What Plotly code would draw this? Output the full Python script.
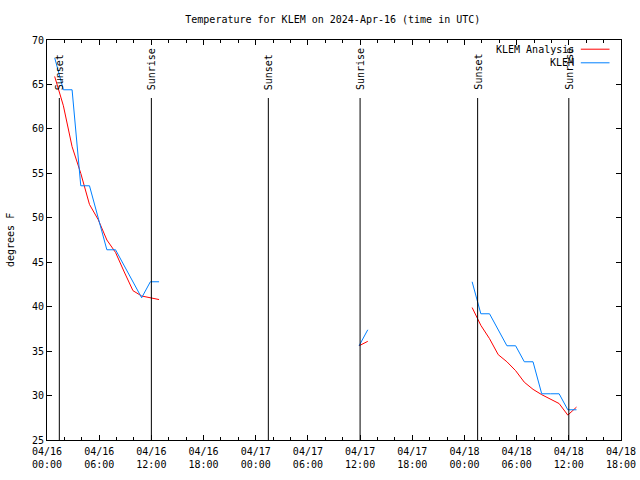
import plotly.graph_objects as go

# ---- data ----
seg1_times = ["2024-04-16 %02d:53" % h for h in range(0, 13)]
seg2_times = ["2024-04-17 11:53", "2024-04-17 12:53"]
seg3_times = ["2024-04-18 %02d:53" % h for h in range(0, 13)]

analysis_seg1 = [65.9, 62.6, 58.0, 55.0, 51.5, 49.8, 47.5, 46.1, 43.9, 41.8, 41.2, 41.0, 40.8]
analysis_seg2 = [35.6, 36.1]
analysis_seg3 = [39.9, 37.9, 36.4, 34.6, 33.8, 32.8, 31.5, 30.7, 30.1, 29.6, 29.1, 27.8, 28.7]

obs_seg1 = [68.0, 64.4, 64.4, 53.6, 53.6, 50.0, 46.4, 46.4, 44.6, 42.8, 41.0, 42.8, 42.8]
obs_seg2 = [35.6, 37.4]
obs_seg3 = [42.8, 39.2, 39.2, 37.4, 35.6, 35.6, 33.8, 33.8, 30.2, 30.2, 30.2, 28.4, 28.4]

event_times = ["2024-04-16 01:25", "2024-04-16 12:00", "2024-04-17 01:27",
               "2024-04-17 12:00", "2024-04-18 01:31", "2024-04-18 12:00"]
event_labels = ["Sunset", "Sunrise", "Sunset", "Sunrise", "Sunset", "Sunrise"]

tick_vals = ["2024-04-16 00:00", "2024-04-16 06:00", "2024-04-16 12:00", "2024-04-16 18:00",
             "2024-04-17 00:00", "2024-04-17 06:00", "2024-04-17 12:00", "2024-04-17 18:00",
             "2024-04-18 00:00", "2024-04-18 06:00", "2024-04-18 12:00", "2024-04-18 18:00"]
tick_text = [v[5:7] + "/" + v[8:10] + "<br>" + v[11:16] for v in tick_vals]

title_text = "Temperature for KLEM on 2024-Apr-16 (time in UTC)"
FONT = "DejaVu Sans Mono"
RED = "#ff0000"
BLUE = "#0080ff"

x_all = seg1_times + [None] + seg2_times + [None] + seg3_times
an_all = analysis_seg1 + [None] + analysis_seg2 + [None] + analysis_seg3
ob_all = obs_seg1 + [None] + obs_seg2 + [None] + obs_seg3

fig = go.Figure()
fig.add_trace(go.Scatter(x=x_all, y=an_all, mode="lines", name="KLEM Analysis",
                         line=dict(color=RED, width=1), connectgaps=False))
fig.add_trace(go.Scatter(x=x_all, y=ob_all, mode="lines", name="KLEM",
                         line=dict(color=BLUE, width=1), connectgaps=False))

for t, lab in zip(event_times, event_labels):
    fig.add_shape(type="line", xref="x", yref="y domain", x0=t, x1=t, y0=0, y1=0.855,
                  line=dict(color="black", width=1))
    fig.add_annotation(x=t, xref="x", y=0.87, yref="y domain", text=lab, textangle=-90,
                       showarrow=False, xanchor="center", yanchor="bottom",
                       font=dict(family=FONT, size=10, color="black"))

# legend drawn as annotations
leg = [("KLEM Analysis", RED, 0.977), ("KLEM", BLUE, 0.943)]
for name, col, yy in leg:
    fig.add_annotation(x=0.921, xref="paper", y=yy, yref="paper", text=name, showarrow=False,
                       xanchor="right", yanchor="middle", font=dict(family=FONT, size=10, color="black"))
    fig.add_shape(type="line", xref="paper", yref="paper", x0=0.930, x1=0.980, y0=yy, y1=yy,
                  line=dict(color=col, width=1))

# y-axis title
fig.add_annotation(x=0, xref="paper", y=0.5, yref="paper", xshift=-37, text="degrees F",
                   textangle=-90, showarrow=False, xanchor="center", yanchor="middle",
                   font=dict(family=FONT, size=10, color="black"))

fig.update_layout(
    width=640, height=480,
    margin=dict(l=47, r=19, t=40, b=40, autoexpand=False),
    paper_bgcolor="white", plot_bgcolor="white",
    showlegend=False,
    title=dict(text=title_text, x=0.52, xanchor="center", y=1 - 19 / 480, yanchor="middle",
               yref="container", automargin=False,
               font=dict(family=FONT, size=10, color="black")),
    font=dict(family=FONT, size=10, color="black"),
)
fig.update_xaxes(
    type="date", range=["2024-04-16 00:00", "2024-04-18 18:00"], automargin=False,
    tickmode="array", tickvals=tick_vals, ticktext=tick_text, ticklabelstandoff=2,
    ticks="inside", ticklen=5, tickcolor="black", showline=True, linecolor="black",
    linewidth=1, mirror="ticks", showgrid=False, zeroline=False,
    minor=dict(ticks="inside", ticklen=3, dtick=7200000, tick0="2024-04-16 00:00",
               tickcolor="black", showgrid=False),
)
fig.update_yaxes(
    range=[25, 70], dtick=5, tick0=25, ticks="inside", ticklen=5, tickcolor="black",
    showline=True, linecolor="black", linewidth=1, mirror="ticks", showgrid=False,
    zeroline=False, automargin=False,
)
fig.write_html("out.html", config={"displayModeBar": False},
               post_script="document.body.style.margin='0px';")
